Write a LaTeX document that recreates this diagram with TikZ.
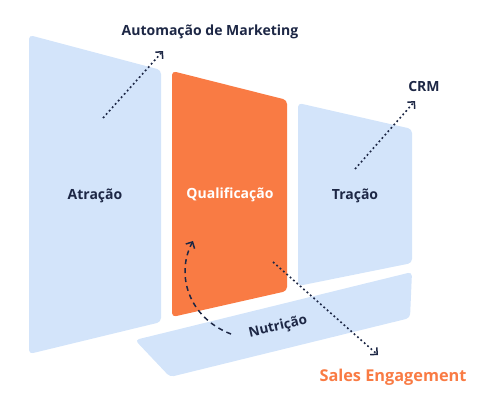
\documentclass[tikz,border=0pt]{standalone}
\usepackage{fontspec}
\setmainfont{Open Sans}
\usetikzlibrary{arrows.meta}
\definecolor{panelblue}{HTML}{D3E4FA}
\definecolor{rdorange}{HTML}{F97B44}
\definecolor{navy}{HTML}{1D2745}
\tikzset{
  panel/.style={fill=panelblue, rounded corners=4pt},
  hotpanel/.style={fill=rdorange, rounded corners=4pt},
  lbl/.style={font=\fontsize{14}{16}\selectfont\bfseries, text=navy, inner sep=0pt},
  dotarrow/.style={draw=navy, line width=1.6pt, dash pattern=on 1.8pt off 2.7pt, -{Straight Barb[angle=90:7pt, line width=1.5pt]}},
  dasharrow/.style={draw=navy, line width=1.5pt, dash pattern=on 5pt off 4pt, -{Straight Barb[angle=90:7pt, line width=1.5pt]}}
}
\begin{document}
\begin{tikzpicture}[x=1pt,y=-1pt]
\useasboundingbox (0,0) rectangle (500,410);
% panels
\path[panel] (29,35) -- (161,70) -- (161,322) -- (29,354) -- cycle;
\path[hotpanel] (172,71) -- (287,100) -- (287,291) -- (172,317) -- cycle;
\path[panel] (298,103) -- (412,129) -- (412,263) -- (298,286) -- cycle;
\path[panel] (135,340) -- (412,272) -- (410,318) -- (170,377) -- cycle;
% labels
\node[lbl] (auto) at (210,32) {Automação de Marketing};
\node[lbl] (crm) at (424,86) {CRM};
\node[lbl] (atr) at (95,196) {Atração};
\node[lbl, text=white] (qual) at (230,195) {Qualificação};
\node[lbl] (tra) at (355,196) {Tração};
\node[lbl, rotate=13, font=\fontsize{13.5}{16}\selectfont\bfseries] (nut) at (278,327) {Nutrição};
\node[lbl, font=\fontsize{16.3}{19}\selectfont\bfseries, text=rdorange] (sales) at (393,377) {Sales Engagement};
% connector ends
\coordinate (a0) at (103,118);
\coordinate (a1) at (163,51);
\coordinate (c0) at (355,169);
\coordinate (c1) at (415,101);
\coordinate (s0) at (273,262);
\coordinate (s1) at (378,355);
\coordinate (n0) at (231,334);
\coordinate (n1) at (193,241);
\draw[dotarrow] (a0) -- (a1);
\draw[dotarrow] (c0) -- (c1);
\draw[dotarrow] (s0) -- (s1);
\draw[dasharrow] (n0) .. controls (189,318) and (175,275) .. (n1);
\end{tikzpicture}
\end{document}
